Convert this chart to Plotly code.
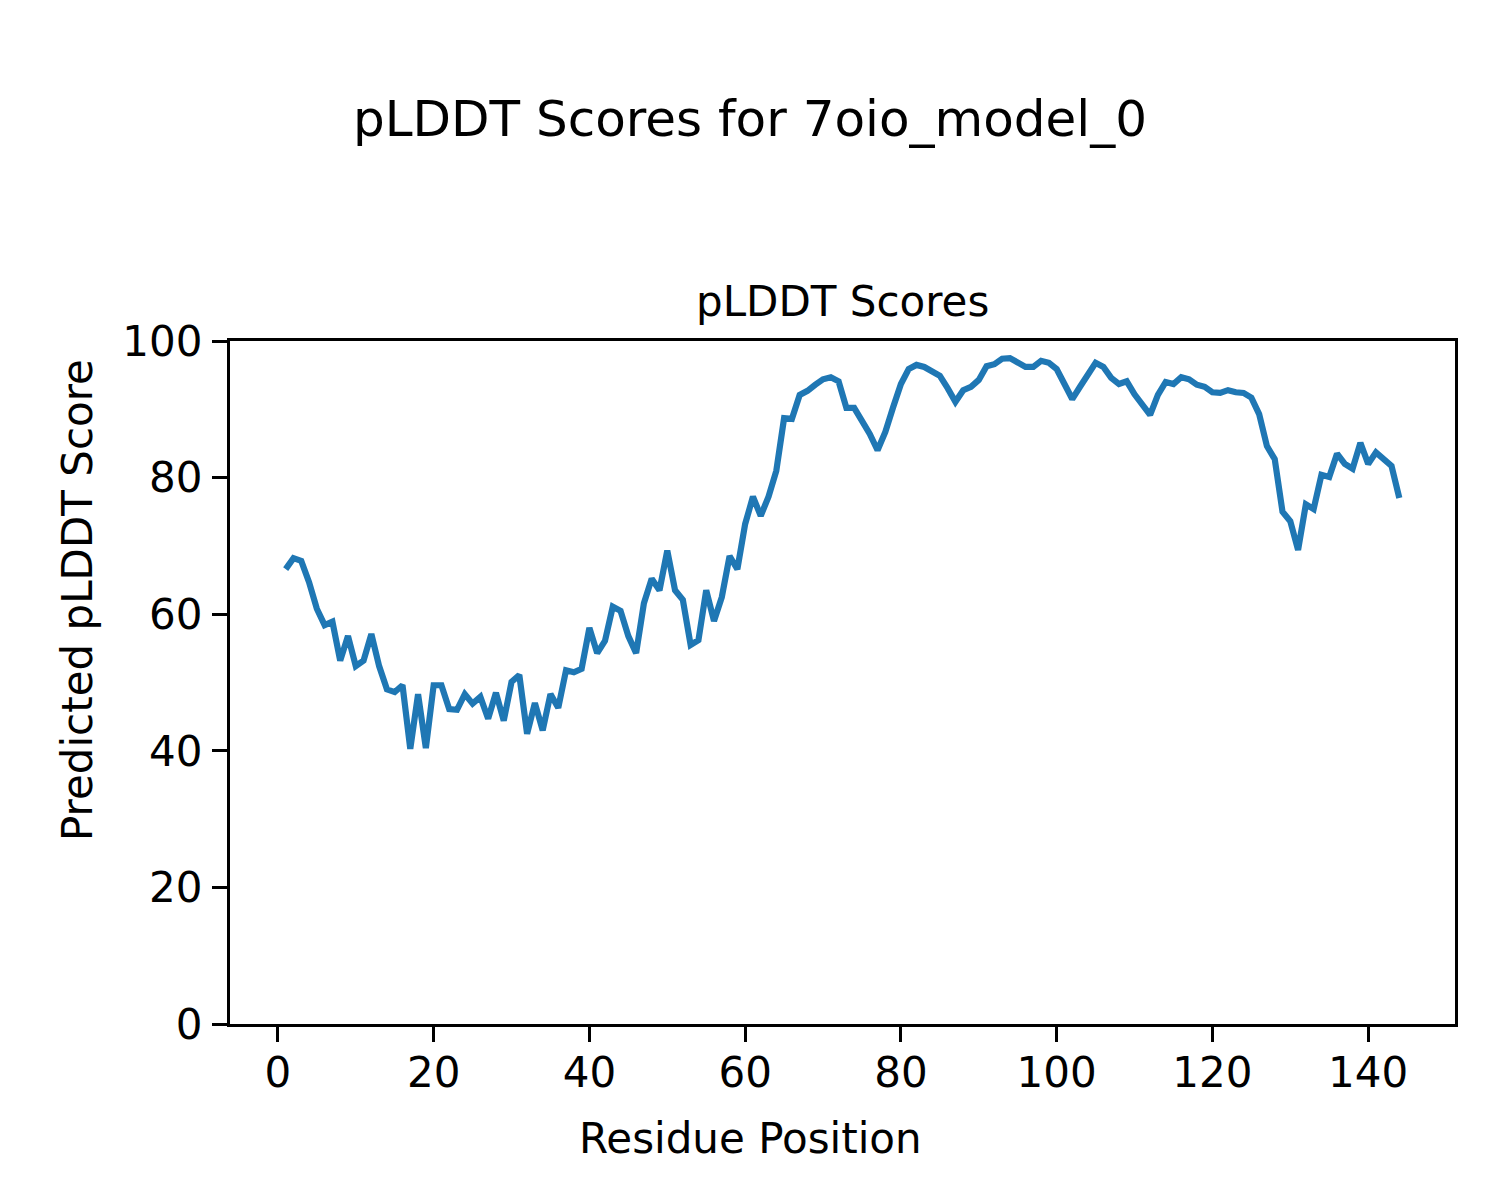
import plotly.graph_objects as go

residues = list(range(1, 145))
plddt = [
    66.6, 68.2, 67.8, 64.7, 60.8, 58.4, 58.9, 53.2, 56.8, 52.4,
    53.2, 57.1, 52.4, 49.0, 48.6, 49.6, 40.3, 48.3, 40.4, 49.6,
    49.6, 46.1, 46.0, 48.3, 46.9, 47.9, 44.7, 48.5, 44.4, 50.1,
    51.1, 42.5, 47.0, 43.0, 48.3, 46.3, 51.8, 51.5, 52.0, 58.0,
    54.3, 56.1, 61.1, 60.5, 56.8, 54.3, 61.6, 65.2, 63.5, 69.3,
    63.5, 62.1, 55.5, 56.2, 63.5, 59.0, 62.5, 68.5, 66.6, 73.2,
    77.2, 74.4, 77.2, 81.0, 88.7, 88.6, 92.1, 92.7, 93.6, 94.4,
    94.7, 94.1, 90.2, 90.2, 88.3, 86.4, 84.0, 86.7, 90.3, 93.7,
    95.9, 96.5, 96.2, 95.6, 94.9, 93.1, 91.1, 92.8, 93.3, 94.3,
    96.3, 96.6, 97.4, 97.5, 96.8, 96.2, 96.2, 97.1, 96.8, 95.9,
    93.7, 91.5, 93.3, 95.2, 96.8, 96.2, 94.6, 93.7, 94.1, 92.2,
    90.5, 89.2, 92.1, 94.0, 93.7, 94.7, 94.4, 93.6, 93.3, 92.5,
    92.4, 92.8, 92.5, 92.4, 91.7, 89.3, 84.6, 82.7, 75.0, 73.6,
    69.4, 76.1, 75.4, 80.4, 80.1, 83.5, 82.0, 81.3, 85.1, 82.0,
    83.7, 82.7, 81.7, 77.0,
]
x_ticks = [0, 20, 40, 60, 80, 100, 120, 140]
y_ticks = [0, 20, 40, 60, 80, 100]

FONT = "DejaVu Sans"
W, H = 1492, 1192
ML, MR, MT, MB = 222, 45, 333, 176
PW, PH = W - ML - MR, H - MT - MB

fig = go.Figure()
fig.add_trace(go.Scatter(x=residues, y=plddt, mode="lines",
                         line=dict(color="#1f77b4", width=6.2), showlegend=False))

axis_common = dict(showgrid=False, zeroline=False, showline=True, linecolor="black",
                   linewidth=3.3, mirror=True, ticks="outside", ticklen=15, tickwidth=3.3,
                   tickcolor="black", tickfont=dict(family=FONT, size=42, color="black"))

fig.update_xaxes(range=[-6.15, 151.15], tickvals=x_ticks, ticklabelstandoff=-6, **axis_common)
fig.update_yaxes(range=[0, 100], tickvals=y_ticks, ticklabelstandoff=1, **axis_common)

fig.update_layout(
    width=W, height=H,
    margin=dict(l=ML, r=MR, t=MT, b=MB),
    paper_bgcolor="white", plot_bgcolor="white",
    title=dict(text="pLDDT Scores for 7oio_model_0", xref="container", x=742 / W,
               yref="container", y=1 - 110 / H, xanchor="center", yanchor="middle",
               font=dict(family=FONT, size=50, color="black")),
    annotations=[
        dict(text="pLDDT Scores", xref="paper", yref="paper", x=0.5, y=1, yshift=40,
             xanchor="center", yanchor="middle", showarrow=False,
             font=dict(family=FONT, size=42, color="black")),
        dict(text="Residue Position", xref="paper", yref="paper", x=(742 - ML) / PW, y=0,
             yshift=-114, xanchor="center", yanchor="middle", showarrow=False,
             font=dict(family=FONT, size=42, color="black")),
        dict(text="Predicted pLDDT Score", xref="paper", yref="paper", x=0,
             y=(H - MB - 592) / PH, xshift=-153,
             xanchor="center", yanchor="middle", showarrow=False, textangle=-90,
             font=dict(family=FONT, size=42, color="black")),
    ],
)

fig.write_html("out.html")
